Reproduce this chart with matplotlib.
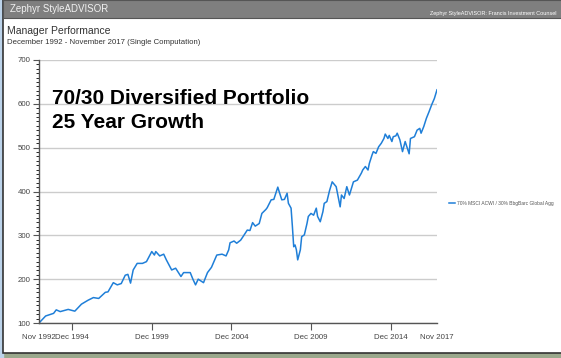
import matplotlib
matplotlib.use("Agg")
from matplotlib import pyplot as plt
from matplotlib.patches import Rectangle
import numpy as np

plt.rcParams['font.family'] = ['Liberation Sans', 'DejaVu Sans']

# growth of $100, months counted from Nov 1992
months = [0, 5, 11, 13, 16, 22, 27, 32, 37, 41, 45, 50, 52, 56, 59, 62, 65, 67, 69, 71,
          74, 78, 81, 85, 87, 88, 91, 94, 96, 100, 103, 107, 109, 114, 116, 118, 120, 124, 127, 130,
          134, 138, 141, 143, 144, 147, 149, 152, 154, 157, 159, 161, 163, 166, 168, 171, 172, 175, 177, 180,
          181, 183, 185, 187, 188, 190, 191, 192, 193, 194, 195, 197, 198, 200, 202, 203, 205, 207, 209, 210,
          212, 214, 215, 217, 219, 221, 224, 225, 227, 228, 230, 232, 234, 237, 240, 243, 244, 246, 248, 249,
          251, 252, 254, 256, 258, 260, 261, 263, 264, 266, 267, 269, 270, 272, 274, 276, 278, 279, 280, 283,
          285, 287, 288, 290, 292, 294, 296, 298, 300]
growth = [100, 116, 122, 130, 126, 131, 127, 143, 152, 158, 156, 170, 171, 192, 187, 190, 209, 211, 191, 221,
          236, 236, 240, 263, 255, 263, 253, 257, 244, 221, 225, 206, 215, 215, 200, 187, 200, 192, 215, 227,
          255, 257, 253, 267, 283, 287, 282, 289, 298, 312, 311, 329, 321, 327, 350, 359, 363, 381, 382, 410,
          400, 381, 382, 396, 373, 362, 320, 274, 278, 267, 244, 267, 297, 301, 327, 343, 350, 346, 362, 343,
          331, 354, 373, 377, 402, 422, 411, 396, 365, 392, 384, 411, 392, 422, 426, 442, 449, 457, 449, 464,
          483, 491, 487, 502, 510, 521, 531, 521, 528, 514, 525, 527, 533, 518, 491, 514, 495, 486, 521, 525,
          540, 544, 533, 548, 567, 582, 598, 612, 632]

tick_months = [0, 25, 85, 145, 205, 265, 300]
tick_labels = ['Nov 1992', 'Dec 1994', 'Dec 1999', 'Dec 2004', 'Dec 2009', 'Dec 2014', 'Nov 2017']
series_name = '70% MSCI ACWI / 30% BbgBarc Global Agg'
headline = ['70/30 Diversified Portfolio', '25 Year Growth']

fig = plt.figure(figsize=(5.61, 3.58), dpi=100)
fig.patch.set_facecolor('#9aa88c')

# window chrome: blue edge, white panel, grey title bar
fig.add_artist(Rectangle((0, 0), 0.006, 1, transform=fig.transFigure, color='#bcd3ea', zorder=0))
fig.add_artist(Rectangle((0.005, 1 - 353 / 358), 1.0, 353 / 358, transform=fig.transFigure,
                         facecolor='white', edgecolor='#333333', linewidth=1.2, zorder=0))
fig.add_artist(Rectangle((0.005, 1 - 18 / 358), 1.0, 18 / 358, transform=fig.transFigure,
                         facecolor='#7f7f7f', edgecolor='#555555', linewidth=0.8, zorder=1))

fig.text(10 / 561, 1 - 9.5 / 358, 'Zephyr StyleADVISOR', color='#f0f0f0', fontsize=7, va='center')
fig.text(557 / 561, 1 - 14 / 358, 'Zephyr StyleADVISOR: Francis Investment Counsel',
         color='white', fontsize=4.0, ha='right', va='center')
fig.text(7 / 561, 1 - 31 / 358, 'Manager Performance', color='#333333', fontsize=7.5, va='center')
fig.text(7 / 561, 1 - 42 / 358, 'December 1992 - November 2017 (Single Computation)',
         color='#333333', fontsize=5.6, va='center')

ax = fig.add_axes([39 / 561, 1 - 323 / 358, 398 / 561, 263 / 358])
ax.set_facecolor('none')
ax.plot(months, growth, color='#1f7fd8', linewidth=1.1, label=series_name)

ax.set_xlim(0, 300)
ax.set_ylim(100, 700)
ax.set_xticks(tick_months)
ax.set_xticklabels(tick_labels)
ax.set_yticks(np.arange(100, 701, 100))
ax.set_yticks(np.arange(100, 701, 10), minor=True)
ax.tick_params(axis='both', labelsize=5.7, labelcolor='#444444', colors='#555555',
               direction='out', length=4, width=0.8, pad=2)
ax.tick_params(axis='y', which='minor', length=2.5, width=0.6)
ax.tick_params(axis='x', length=5, pad=3)
# end dates carry a label but no tick mark
for t in (ax.xaxis.get_major_ticks()[0], ax.xaxis.get_major_ticks()[-1]):
    t.tick1line.set_visible(False)
ax.grid(axis='y', color='#cccccc', linewidth=1.0)
ax.set_axisbelow(True)
for side in ['top', 'right']:
    ax.spines[side].set_visible(False)
for side in ['left', 'bottom']:
    ax.spines[side].set_color('#555555')
    ax.spines[side].set_linewidth(1.0)

ax.text(12.5 / 398, 1 - 38 / 263, headline[0], transform=ax.transAxes,
        fontsize=15, fontweight='bold', va='center', ha='left')
ax.text(12.5 / 398, 1 - 63 / 263, headline[1], transform=ax.transAxes,
        fontsize=15, fontweight='bold', va='center', ha='left')

leg = ax.legend(loc='center left', bbox_to_anchor=(1.02, 0.455), frameon=False,
                fontsize=3.5, handlelength=1.2, handletextpad=0.3, labelcolor='#555555')

fig.savefig('out.png', dpi=100)
